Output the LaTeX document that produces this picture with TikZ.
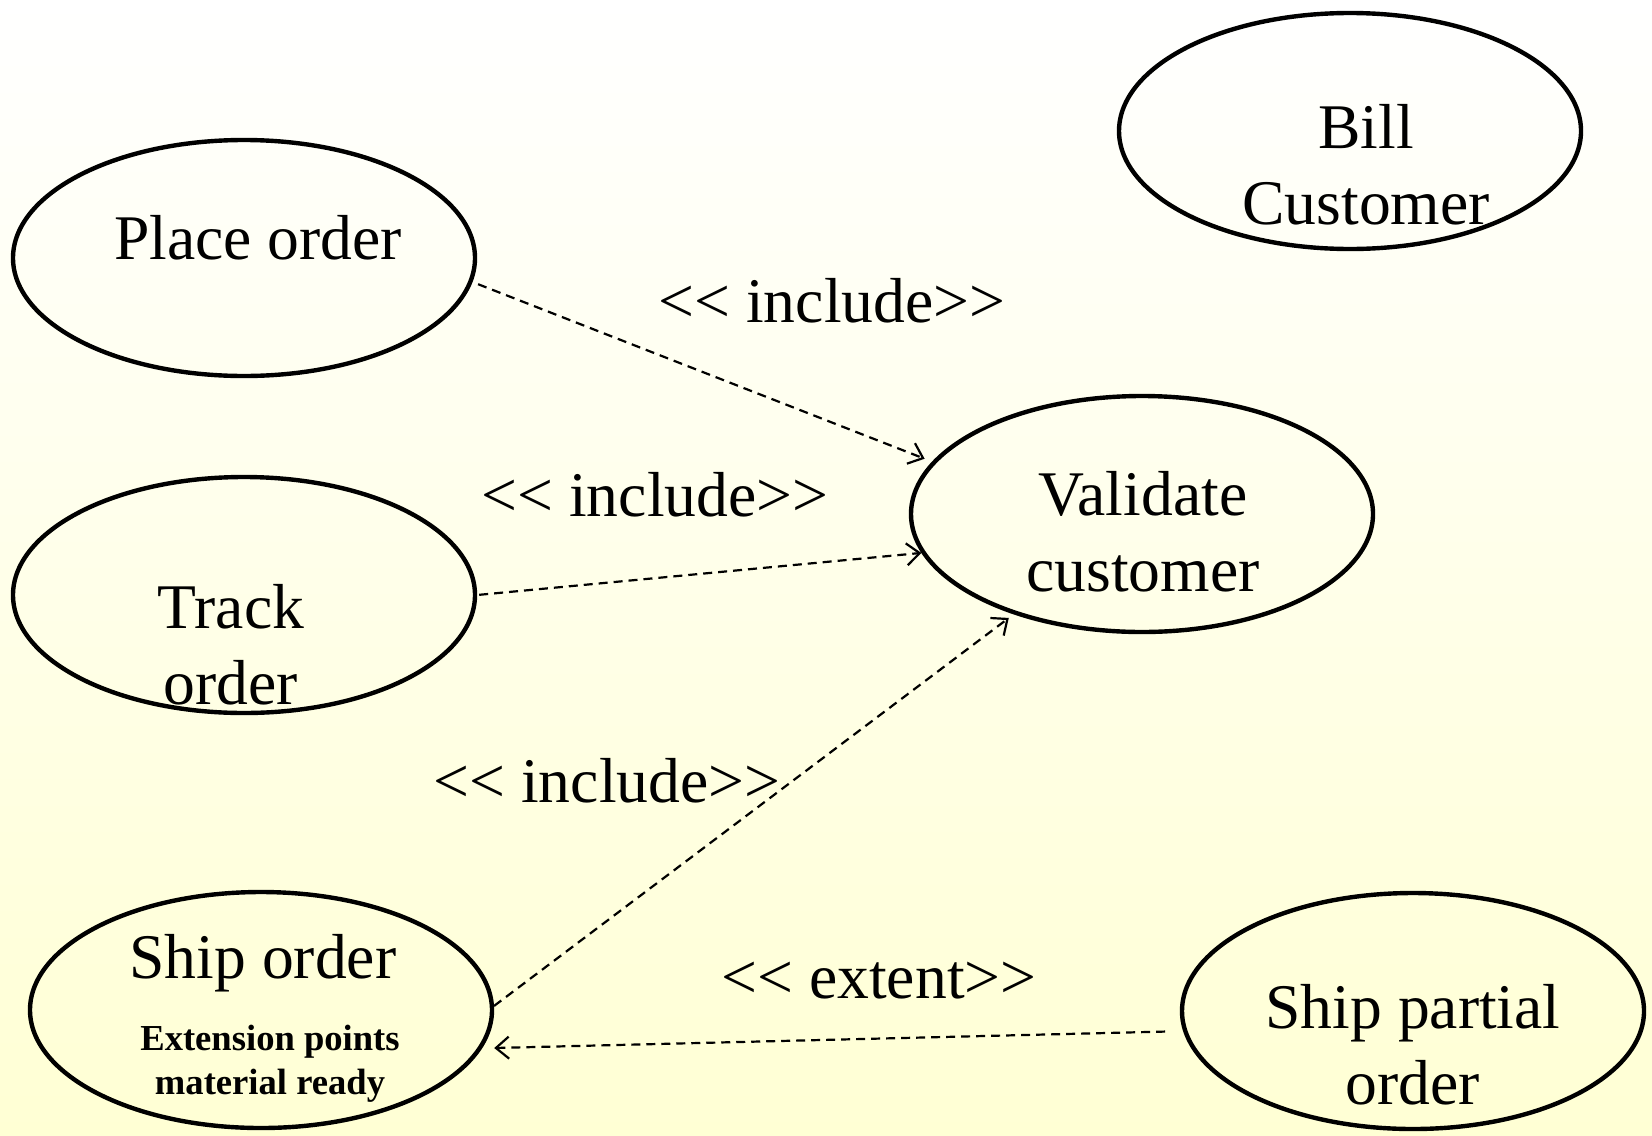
\documentclass[tikz,border=0pt]{standalone}
\usepackage{fontspec}
\setmainfont{Liberation Serif}
\usetikzlibrary{shapes.geometric,arrows.meta}
\definecolor{paleyellow}{RGB}{255,255,212}
\definecolor{midyellow}{RGB}{255,255,238}

\begin{document}
\begin{tikzpicture}[x=0.5pt,y=-0.5pt,
  usecase/.style={ellipse,draw=black,line width=2.2pt,minimum width=231pt,
    minimum height=118pt,inner sep=0pt},
  uctext/.style={inner sep=0pt,align=center,font=\fontsize{31.8}{38}\selectfont},
  extpts/.style={inner sep=0pt,align=center,font=\fontsize{18.3}{22}\selectfont\bfseries},
  stereo/.style={inner sep=0pt,font=\fontsize{31.8}{38}\selectfont},
  dep/.style={draw=black,line width=1.1pt,dash pattern=on 4.5pt off 3pt,
    -{Straight Barb[length=6.5pt,width=11pt]}}
]
% page and background
\useasboundingbox (0,0) rectangle (1652,1135);
\shade[top color=white,middle color=midyellow,bottom color=paleyellow]
  (0,0) rectangle (1652,1135);

% use cases
\node[usecase] (place)    at (244,258)  {};
\node[usecase] (bill)     at (1350,131) {};
\node[usecase] (validate) at (1142,514) {};
\node[usecase] (track)    at (244,595)  {};
\node[usecase] (ship)     at (261,1010) {};
\node[usecase] (partial)  at (1413,1011) {};

% use case names
\node[uctext] (placetxt)    at (258,238)  {Place order};
\node[uctext] (billtxt)     at (1366,165) {Bill\\Customer};
\node[uctext] (validatetxt) at (1143,532) {Validate\\customer};
\node[uctext] (tracktxt)    at (231,645)  {Track\\order};
\node[uctext] (shiptxt)     at (263,963)  {Ship order};
\node[extpts] (shipext)     at (270,1064) {Extension points\\material ready};
\node[uctext] (partialtxt)  at (1413,1045) {Ship partial\\order};

% stereotypes
\node[stereo] (inc1) at (832,301) {<{}< include>{}>};
\node[stereo] (inc2) at (655,495) {<{}< include>{}>};
\node[stereo] (inc3) at (607,781) {<{}< include>{}>};
\node[stereo] (ext)  at (879,981) {<{}< extent>{}>};

% dependencies
\draw[dep,shorten <=3pt,shorten >=4pt] (place.-6) -- (validate.166);
\draw[dep,shorten <=1pt] (track.0) -- (validate.190);
\draw[dep,shorten >=3pt] (ship.1) -- (validate.218);
\draw[dep,shorten <=9pt] (partial.185) -- ([yshift=-19pt]ship.east);
\end{tikzpicture}
\end{document}
